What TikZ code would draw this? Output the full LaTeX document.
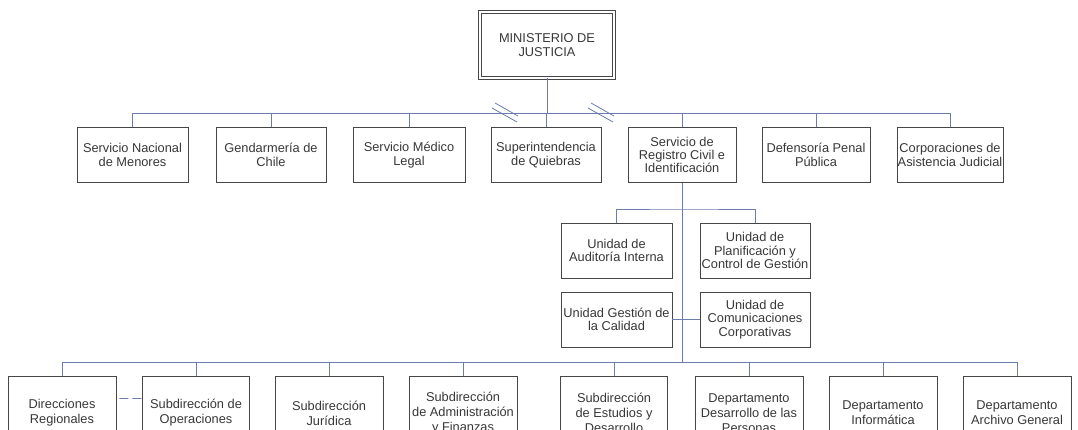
\documentclass[tikz,border=0pt]{standalone}
\usepackage{fontspec}
\setmainfont{Liberation Sans}
\definecolor{linkblue}{RGB}{108,124,172}
\definecolor{boxgray}{RGB}{70,70,70}
\tikzset{every picture/.style={line width=0.8pt}}
\tikzset{
  unitbox/.style={draw=boxgray, fill=white, text=black!78, align=center, inner sep=0pt,
    font=\fontsize{12.8}{13.4}\selectfont, minimum height=55pt},
  lowbox/.style={unitbox, font=\fontsize{12.8}{15}\selectfont, minimum height=74pt},
  topbox/.style={unitbox, double, double distance=2.4pt, minimum width=134pt, minimum height=66pt},
  link/.style={draw=linkblue, line width=0.8pt}
}

\begin{document}
\begin{tikzpicture}[x=1pt,y=1pt,yscale=-1,xscale=1]
\useasboundingbox (0,0) rectangle (1078,430);

%Shape: Double box
\node [topbox] (ministerio) at (547,45) {MINISTERIO DE\\JUSTICIA};

%Row of services
\node [unitbox, minimum width=111pt] (sename) at (132.5,155) {Servicio Nacional\\de Menores};
\node [unitbox, minimum width=110pt] (gendarmeria) at (271,155) {Gendarmería de\\Chile};
\node [unitbox, minimum width=112pt] (medico) at (409,155) {Servicio Médico\\Legal};
\node [unitbox, minimum width=110pt] (quiebras) at (546,155) {Superintendencia\\de Quiebras};
\node [unitbox, minimum width=108pt] (registro) at (682,155) {Servicio de\\Registro Civil e\\Identificación};
\node [unitbox, minimum width=108pt] (defensoria) at (816,155) {Defensoría Penal\\Pública};
\node [unitbox, minimum width=106pt] (corporaciones) at (950,155) {Corporaciones de\\Asistencia Judicial};

%Staff units
\node [unitbox, minimum width=111pt] (auditoria) at (616.5,250.5) {Unidad de\\Auditoría Interna};
\node [unitbox, minimum width=110pt] (planificacion) at (755,250.5) {Unidad de\\Planificación y\\Control de Gestión};
\node [unitbox, minimum width=111pt] (calidad) at (616.5,319.5) {Unidad Gestión de\\la Calidad};
\node [unitbox, minimum width=110pt] (comunicaciones) at (755,319.5) {Unidad de\\Comunicaciones\\Corporativas};

%Bottom row
\node [lowbox, minimum width=108pt] (regionales) at (62,413) {Direcciones\\Regionales};
\node [lowbox, minimum width=107pt] (operaciones) at (196,413) {Subdirección de\\Operaciones};
\node [lowbox, minimum width=108pt] (juridica) at (329,413) {Subdirección\\Jurídica};
\node [lowbox, minimum width=108pt] (administracion) at (463,413) {Subdirección\\de Administración\\y Finanzas};
\node [lowbox, minimum width=107pt] (estudios) at (614,413) {Subdirección\\de Estudios y\\Desarrollo};
\node [lowbox, minimum width=108pt] (personas) at (749,413) {Departamento\\Desarrollo de las\\Personas};
\node [lowbox, minimum width=108pt] (informatica) at (883,413) {Departamento\\Informática};
\node [lowbox, minimum width=108pt] (archivo) at (1017,413) {Departamento\\Archivo General};

%Junctions
\coordinate (bus1) at (547,113.5);
\coordinate (bus2) at (682,209);
\coordinate (bus3) at (682,362.5);

%Connectors
\draw [link] (ministerio) -- (bus1);
\draw [link] (sename.north) |- (bus1) -| (corporaciones.north);
\foreach \n in {gendarmeria,medico,quiebras,registro,defensoria}
  \draw [link] (\n.north) -- (\n.north |- bus1);
\draw [link] (registro.south) -- (bus3);
\draw [link] (auditoria.north) |- (bus2) -| (planificacion.north);
\draw [link] (calidad) -- (comunicaciones);
\draw [link] (regionales.north) |- (bus3) -| (archivo.north);
\foreach \n in {operaciones,juridica,administracion,estudios,personas,informatica}
  \draw [link] (\n.north) -- (\n.north |- bus3);
\draw [link, dash pattern=on 9pt off 4pt, dash phase=10pt] (regionales.15) -- (operaciones.165);

%Break marks
\foreach \hx in {506,602} {
  \draw [link] (\hx-11,103) -- (\hx+12,116);
  \draw [link] (\hx-14,108) -- (\hx+11,122);
}

\end{tikzpicture}
\end{document}
